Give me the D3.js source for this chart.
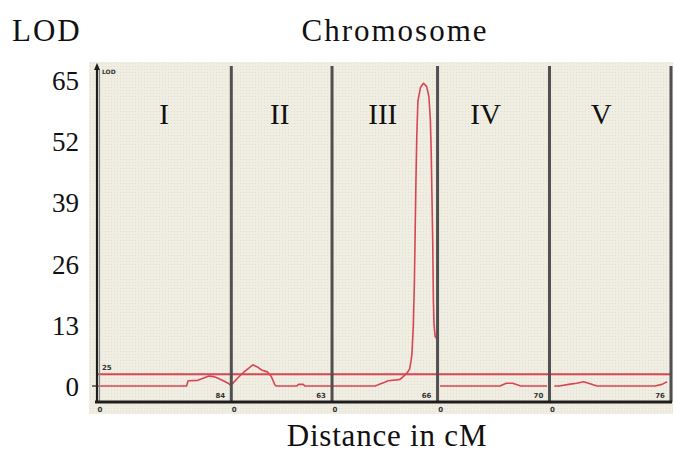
<!DOCTYPE html>
<html>
<head>
<meta charset="utf-8">
<script src="https://cdn.jsdelivr.net/npm/d3@7"></script>
<style>
  html, body { margin: 0; padding: 0; background: #fff; }
  svg { display: block; }
</style>
</head>
<body>
<script>
// Chromosome names and their genetic lengths (cM)
const chromosomes = ["I", "II", "III", "IV", "V"];
const chromLengths = [84, 63, 66, 70, 76];

// LOD axis tick labels and significance threshold
const lodTicks = [0, 13, 26, 39, 52, 65];
const threshold = 2.5;
const thresholdLabel = "25";

// LOD profiles per chromosome: [position in cM, LOD]
const lodChrI = [[0, 0], [56, 0], [57, 1.1], [63, 1.2], [66, 1.6], [70, 2.1], [73, 2.0], [76, 1.6], [79, 1.1], [82, 0.6], [83.5, 0.2]];
const lodChrII = [[0.5, 0.4], [4, 1.7], [8, 3.0], [13.5, 4.5], [16, 4.1], [19, 3.4], [22.5, 3.0], [25, 2.0], [27.5, 0.1], [28.5, 0], [41, 0], [42, 0.35], [45, 0.35], [46, 0], [62.5, 0]];
const lodChrIII = [[0, 0], [27, 0], [30, 0.4], [33, 0.8], [35, 1.1], [40.5, 1.3], [42.5, 1.4], [44.5, 2.0], [47, 2.8], [48.5, 3.6], [49.5, 5.5], [50, 7.0], [50.8, 12.5], [51.5, 22], [52, 33], [52.6, 46], [53, 53], [53.7, 60.5], [55.3, 63.4], [57.2, 64.3], [59.2, 63.6], [60.6, 61.4], [61.5, 56.5], [62, 50], [62.5, 40], [63, 30], [63.4, 18], [63.8, 13], [64.5, 10.5], [66, 9.8]];
const lodChrIV = [[1.5, 0], [39, 0], [43, 0.6], [47, 0.6], [52, 0], [68.5, 0]];
const lodChrV = [[3, 0], [6, 0], [12, 0.35], [17, 0.6], [21.3, 0.9], [24.4, 0.6], [29.8, 0], [66, 0], [70.4, 0.35], [73.5, 0.9]];

const profiles = [lodChrI, lodChrII, lodChrIII, lodChrIV, lodChrV];

const width = 675, height = 455;
const svg = d3.select("body").append("svg")
  .attr("width", width).attr("height", height);

const starts = Array.from(d3.cumsum([0, ...chromLengths]));
const total = d3.sum(chromLengths);

const x = d3.scaleLinear().domain([0, total]).range([97, 671]);
const y = d3.scaleLinear().domain([0, 65]).range([386, 80]);

const serif = "'Liberation Serif', 'Times New Roman', serif";
const tiny = "'DejaVu Sans', sans-serif";
const red = "#d74652";

// Paper-like panel background
const defs = svg.append("defs");
const pat = defs.append("pattern").attr("id", "paper")
  .attr("width", 3).attr("height", 3).attr("patternUnits", "userSpaceOnUse");
pat.append("rect").attr("width", 3).attr("height", 3).attr("fill", "#f0ede2");
pat.append("rect").attr("width", 1).attr("height", 1).attr("fill", "#e3dfd0");

const plotTop = 66, plotBottom = 402;
svg.append("rect")
  .attr("x", x(0) - 8).attr("y", plotTop - 4)
  .attr("width", x(total) - x(0) + 10).attr("height", plotBottom - plotTop + 16)
  .attr("fill", "url(#paper)");

// Threshold line
svg.append("line")
  .attr("x1", x(0)).attr("x2", x(total))
  .attr("y1", y(threshold)).attr("y2", y(threshold))
  .attr("stroke", red).attr("stroke-width", 2);
svg.append("text")
  .attr("x", x(0) + 5).attr("y", y(threshold) - 4)
  .attr("font-family", tiny).attr("font-size", 7).attr("font-weight", "bold")
  .attr("fill", "#333").text(thresholdLabel);

// LOD profiles
const line = d3.line()
  .x(d => x(d[0]))
  .y(d => y(d[1]));
profiles.forEach((prof, i) => {
  svg.append("path")
    .datum(prof.map(d => [starts[i] + d[0], d[1]]))
    .attr("d", line)
    .attr("fill", "none")
    .attr("stroke", red)
    .attr("stroke-width", 1.6)
    .attr("stroke-linejoin", "round");
});

// Chromosome dividers
svg.selectAll("line.divider")
  .data(starts.slice(1))
  .join("line")
  .attr("class", "divider")
  .attr("x1", d => x(d)).attr("x2", d => x(d))
  .attr("y1", plotTop).attr("y2", plotBottom)
  .attr("stroke", "#505050").attr("stroke-width", 3);

// Left axis with arrow
svg.append("line")
  .attr("x1", x(0) + 2.5).attr("x2", x(0) + 2.5)
  .attr("y1", plotTop + 4).attr("y2", plotBottom)
  .attr("stroke", "#8a8a8a").attr("stroke-width", 1.2);
svg.append("line")
  .attr("x1", x(0)).attr("x2", x(0))
  .attr("y1", plotTop).attr("y2", plotBottom)
  .attr("stroke", "#1e1e1e").attr("stroke-width", 2.2);
svg.append("path")
  .attr("d", `M${x(0)},${plotTop - 3} l-3,7 h6 z`)
  .attr("fill", "#1e1e1e");
svg.append("line")
  .attr("x1", x(0) - 5).attr("x2", x(0))
  .attr("y1", y(0)).attr("y2", y(0))
  .attr("stroke", "#1e1e1e").attr("stroke-width", 1.2);
svg.append("text")
  .attr("x", x(0) + 5).attr("y", plotTop + 8)
  .attr("font-family", tiny).attr("font-size", 6).attr("font-weight", "bold")
  .attr("fill", "#333").text("LOD");

// Bottom axis
svg.append("line")
  .attr("x1", x(0) - 2).attr("x2", x(total) + 1)
  .attr("y1", plotBottom).attr("y2", plotBottom)
  .attr("stroke", "#1e1e1e").attr("stroke-width", 3);

// Chromosome start (0) and end (length) labels
svg.selectAll("text.start")
  .data(starts.slice(0, -1))
  .join("text")
  .attr("class", "start")
  .attr("x", d => x(d) + 3).attr("y", plotBottom + 10)
  .attr("text-anchor", "middle")
  .attr("font-family", tiny).attr("font-size", 7).attr("font-weight", "bold")
  .attr("fill", "#333").text("0");
svg.selectAll("text.end")
  .data(chromLengths)
  .join("text")
  .attr("class", "end")
  .attr("x", (d, i) => x(starts[i] + d) - 11).attr("y", plotBottom - 4)
  .attr("text-anchor", "middle")
  .attr("font-family", tiny).attr("font-size", 7).attr("font-weight", "bold")
  .attr("fill", "#333").text(d => d);

// Chromosome numerals
const numeralNudge = [0, -2, -2, -8, -9];
svg.selectAll("text.chrom")
  .data(chromosomes)
  .join("text")
  .attr("class", "chrom")
  .attr("x", (d, i) => x(starts[i] + chromLengths[i] / 2) + numeralNudge[i])
  .attr("y", 124)
  .attr("text-anchor", "middle")
  .attr("font-family", serif).attr("font-size", 29)
  .attr("fill", "#111").text(d => d);

// LOD tick labels
const yAxis = d3.axisLeft(y).tickValues(lodTicks).tickSize(0).tickPadding(0);
const gy = svg.append("g")
  .attr("transform", "translate(79,0)")
  .call(yAxis);
gy.select(".domain").remove();
gy.selectAll("text")
  .attr("font-family", serif).attr("font-size", 27)
  .attr("fill", "#111").attr("dy", "0.35em");

// Titles
svg.append("text")
  .attr("x", 12).attr("y", 41)
  .attr("font-family", serif).attr("font-size", 31)
  .attr("letter-spacing", 2)
  .attr("fill", "#111").text("LOD");
svg.append("text")
  .attr("x", 395).attr("y", 41)
  .attr("text-anchor", "middle")
  .attr("font-family", serif).attr("font-size", 31)
  .attr("letter-spacing", 2)
  .attr("fill", "#111").text("Chromosome");
svg.append("text")
  .attr("x", 387).attr("y", 446)
  .attr("text-anchor", "middle")
  .attr("font-family", serif).attr("font-size", 31)
  .attr("letter-spacing", 0.8)
  .attr("fill", "#111").text("Distance in cM");
</script>
</body>
</html>
